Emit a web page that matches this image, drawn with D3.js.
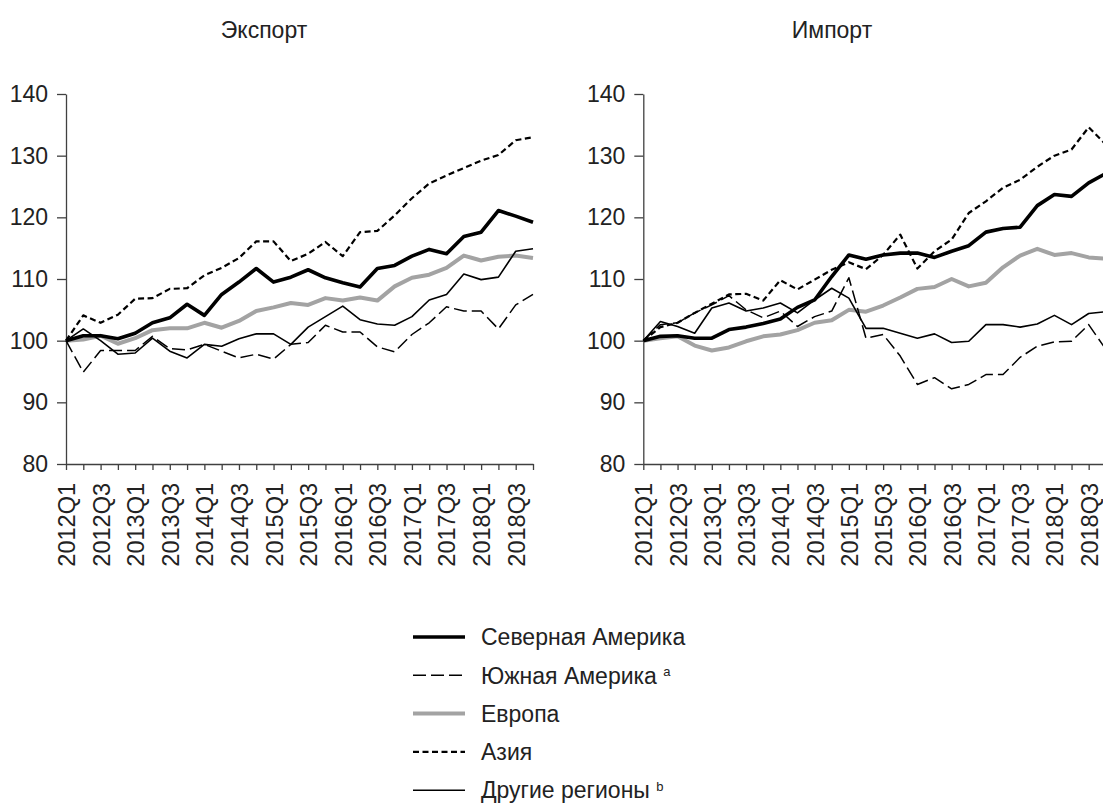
<!DOCTYPE html>
<html lang="ru">
<head>
<meta charset="UTF-8">
<title>Экспорт и импорт по регионам</title>
<script src="https://d3js.org/d3.v7.min.js"></script>
<style>
    body { margin: 0; padding: 0; background: #fff; }
    svg { display: block; font-family: "Liberation Sans", Arial, sans-serif; }
    .axis path, .axis line { stroke: #404040; stroke-width: 1.3px; }
    .axis text { fill: #222; }
    .title { font-size: 23px; fill: #222; }
    .legend text { font-size: 23px; fill: #222; }
</style>
</head>
<body>
<svg width="1103" height="804"></svg>
<script>
// кварталы
const quarters = ["2012Q1","2012Q2","2012Q3","2012Q4","2013Q1","2013Q2","2013Q3","2013Q4",
    "2014Q1","2014Q2","2014Q3","2014Q4","2015Q1","2015Q2","2015Q3","2015Q4",
    "2016Q1","2016Q2","2016Q3","2016Q4","2017Q1","2017Q2","2017Q3","2017Q4",
    "2018Q1","2018Q2","2018Q3","2018Q4"];
const yTicks = [80, 90, 100, 110, 120, 130, 140];

// Экспорт
const northAmericaExport = [100, 100.8, 100.8, 100.3, 101.2, 102.9, 103.7, 105.9, 104.1, 107.5, 109.5, 111.7, 109.5, 110.3, 111.5, 110.2, 109.4, 108.7, 111.7, 112.2, 113.7, 114.8, 114.1, 116.9, 117.6, 121.1, 120.2, 119.2];
const southAmericaExport = [100, 94.9, 98.4, 98.4, 98.4, 100.7, 98.7, 98.5, 99.4, 98.3, 97.2, 97.8, 97.0, 99.4, 99.7, 102.5, 101.4, 101.4, 99.0, 98.2, 101.0, 102.9, 105.5, 104.8, 104.8, 101.9, 105.8, 107.5];
const europeExport = [100, 100.2, 100.8, 99.5, 100.4, 101.7, 102.0, 102.0, 102.9, 102.1, 103.2, 104.8, 105.4, 106.1, 105.8, 106.9, 106.5, 107.0, 106.5, 108.8, 110.2, 110.7, 111.8, 113.8, 113.0, 113.6, 113.8, 113.4];
const asiaExport = [100, 104.1, 102.9, 104.2, 106.8, 106.9, 108.4, 108.5, 110.6, 111.8, 113.4, 116.1, 116.1, 112.9, 114.1, 116.0, 113.7, 117.6, 117.8, 120.3, 123.1, 125.5, 126.8, 128.0, 129.2, 130.1, 132.5, 133.0];
const otherExport = [100, 101.9, 100.0, 97.8, 98.0, 100.4, 98.3, 97.2, 99.4, 99.1, 100.3, 101.1, 101.1, 99.4, 102.2, 103.9, 105.6, 103.4, 102.7, 102.5, 103.9, 106.6, 107.5, 110.8, 109.9, 110.3, 114.5, 114.9];

// Импорт
const northAmericaImport = [100, 100.7, 100.8, 100.4, 100.4, 101.8, 102.2, 102.8, 103.5, 105.4, 106.6, 110.4, 113.9, 113.2, 113.9, 114.2, 114.2, 113.5, 114.5, 115.4, 117.6, 118.2, 118.4, 121.9, 123.7, 123.4, 125.6, 127.1];
const southAmericaImport = [100, 102.6, 102.9, 104.5, 105.8, 107.3, 105.0, 103.7, 104.8, 102.3, 103.9, 104.8, 110.2, 100.4, 101.0, 97.5, 92.9, 94.0, 92.2, 92.9, 94.5, 94.5, 97.3, 99.1, 99.8, 99.9, 102.6, 98.6];
const europeImport = [100, 100.4, 100.7, 99.2, 98.4, 98.9, 99.9, 100.7, 101.0, 101.7, 102.9, 103.3, 105.0, 104.7, 105.7, 107.0, 108.4, 108.7, 110.0, 108.8, 109.4, 111.9, 113.8, 114.9, 113.9, 114.2, 113.5, 113.3];
const asiaImport = [100, 102.2, 102.9, 104.5, 106.0, 107.5, 107.6, 106.5, 109.8, 108.3, 109.9, 111.5, 112.7, 111.6, 113.9, 117.2, 111.7, 114.5, 116.4, 120.7, 122.6, 124.8, 126.1, 128.2, 130.0, 131.0, 134.6, 131.8];
const otherImport = [100, 103.1, 102.3, 101.2, 105.3, 106.1, 104.8, 105.3, 106.1, 104.5, 106.6, 108.5, 106.9, 102.0, 102.0, 101.2, 100.4, 101.1, 99.7, 99.9, 102.6, 102.6, 102.2, 102.7, 104.1, 102.6, 104.4, 104.7];

// стили линий по регионам
const styles = [
    { name: "Северная Америка", sup: "", color: "#000", width: 3.6, dash: null },
    { name: "Южная Америка", sup: "a", color: "#000", width: 1.5, dash: "13,5" },
    { name: "Европа", sup: "", color: "#a3a3a3", width: 4, dash: null },
    { name: "Азия", sup: "", color: "#000", width: 2.2, dash: "6,3.5" },
    { name: "Другие регионы", sup: "b", color: "#000", width: 1.6, dash: null }
];

const svg = d3.select("svg");

const y = d3.scaleLinear().domain([80, 140]).range([464, 94]);

function drawPanel(title, titleX, x0, x1, series) {
    const g = svg.append("g");
    const x = d3.scalePoint().domain(quarters).range([x0, x1]);

    g.append("text").attr("class", "title")
        .attr("x", titleX).attr("y", 38)
        .attr("text-anchor", "middle")
        .text(title);

    // ось X
    const xAxis = g.append("g").attr("class", "axis")
        .attr("transform", "translate(0,464)")
        .call(d3.axisBottom(x).tickSize(6).tickSizeOuter(0)
            .tickFormat((d, i) => i % 2 === 0 ? d : ""));
    xAxis.selectAll("text")
        .style("font-size", "23.5px")
        .attr("transform", "rotate(-90)")
        .attr("x", -19).attr("y", 0).attr("dy", "0.36em")
        .style("text-anchor", "end");

    // ось Y
    g.append("g").attr("class", "axis")
        .attr("transform", `translate(${x0},0)`)
        .call(d3.axisLeft(y).tickValues(yTicks).tickSize(9).tickPadding(9).tickSizeOuter(0))
        .selectAll("text").style("font-size", "23px");

    const line = d3.line()
        .x((d, i) => x(quarters[i]))
        .y(d => y(d));

    // порядок отрисовки: тонкие снизу, толстые сверху
    [2, 4, 1, 3, 0].forEach(k => {
        g.append("path")
            .datum(series[k])
            .attr("fill", "none")
            .attr("stroke", styles[k].color)
            .attr("stroke-width", styles[k].width)
            .attr("stroke-dasharray", styles[k].dash)
            .attr("stroke-linejoin", "round")
            .attr("d", line);
    });
}

drawPanel("Экспорт", 264, 66, 533,
    [northAmericaExport, southAmericaExport, europeExport, asiaExport, otherExport]);
drawPanel("Импорт", 832, 643.3, 1105.8,
    [northAmericaImport, southAmericaImport, europeImport, asiaImport, otherImport]);

// Легенда
const legend = svg.append("g").attr("class", "legend");
styles.forEach((s, i) => {
    const ly = 637 + i * 38.3;
    legend.append("line")
        .attr("x1", 413).attr("x2", 465)
        .attr("y1", ly).attr("y2", ly)
        .attr("stroke", s.color)
        .attr("stroke-width", s.width)
        .attr("stroke-dasharray", s.dash);
    const t = legend.append("text")
        .attr("x", 481).attr("y", ly).attr("dy", "0.36em")
        .text(s.name);
    if (s.sup) {
        t.append("tspan").text(" ");
        t.append("tspan")
            .attr("dy", "-0.6em")
            .style("font-size", "13px")
            .text(s.sup);
    }
});
</script>
</body>
</html>
